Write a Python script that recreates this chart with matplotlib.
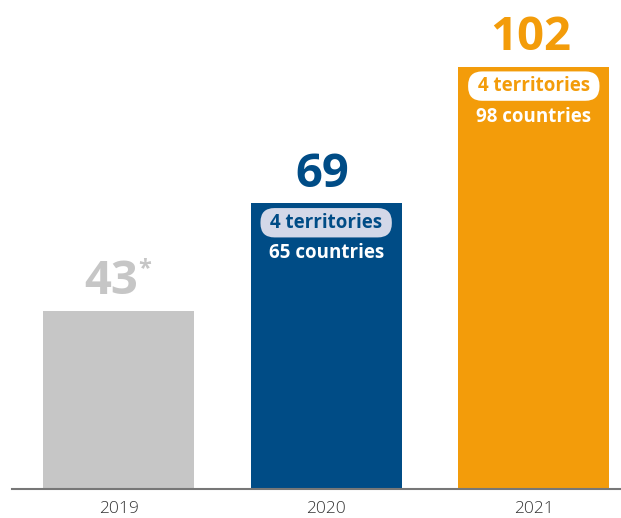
import matplotlib.pyplot as plt

# --- data
years = ['2019', '2020', '2021']
totals = [43, 69, 102]
territories = [None, 4, 4]
countries = [None, 65, 98]
bar_colors = ['#C6C6C6', '#004C86', '#F39C0A']
pill_fill = [None, '#D3D8E8', '#FFFFFF']
pill_text = [None, '#004C86', '#F39C0A']

plt.rcParams['font.family'] = ['Open Sans', 'DejaVu Sans']

fig = plt.figure(figsize=(6.21, 5.18), dpi=100)
ax = fig.add_axes([12 / 621, 29 / 518, 609 / 621, 489 / 518])

x = range(len(years))
ax.bar(x, totals, width=0.727, color=bar_colors, zorder=2)

ax.set_xlim(-0.513, 2.42)
ax.set_ylim(0, 118.1)

# --- big value labels
for i, v in enumerate(totals):
    dx = -5 if i == 0 else -2.5
    ax.annotate(str(v), (i, v), xytext=(dx, 21), textcoords='offset points',
                ha='center', va='center', fontsize=34, fontweight='bold',
                color=bar_colors[i], clip_on=False)
# asterisk on 2019
ax.annotate('*', (0, totals[0]), xytext=(19, 30), textcoords='offset points',
            ha='center', va='center', fontsize=17, fontweight='bold',
            color=bar_colors[0])

# --- territories pill + countries text inside bars
for i in range(len(years)):
    if territories[i] is None:
        continue
    ax.annotate(f' {territories[i]} territories ', (i, totals[i]), xytext=(0, -14),
                textcoords='offset points', ha='center', va='center',
                fontsize=13.5, fontweight='bold', color=pill_text[i],
                bbox=dict(boxstyle='round,pad=0.25,rounding_size=0.75',
                          fc=pill_fill[i], ec='none'))
    ax.annotate(f'{countries[i]} countries', (i, totals[i]), xytext=(0, -36),
                textcoords='offset points', ha='center', va='center',
                fontsize=13.5, fontweight='bold', color='white')

# --- axes styling
for s in ['top', 'right', 'left']:
    ax.spines[s].set_visible(False)
ax.spines['bottom'].set_color('#777777')
ax.spines['bottom'].set_linewidth(1.5)
ax.set_yticks([])
ax.set_xticks(list(x))
ax.set_xticklabels(years, fontsize=12.5, color='#333333', fontweight='light')
ax.tick_params(axis='x', length=0, pad=8.5)

fig.savefig('out.png', dpi=100)
